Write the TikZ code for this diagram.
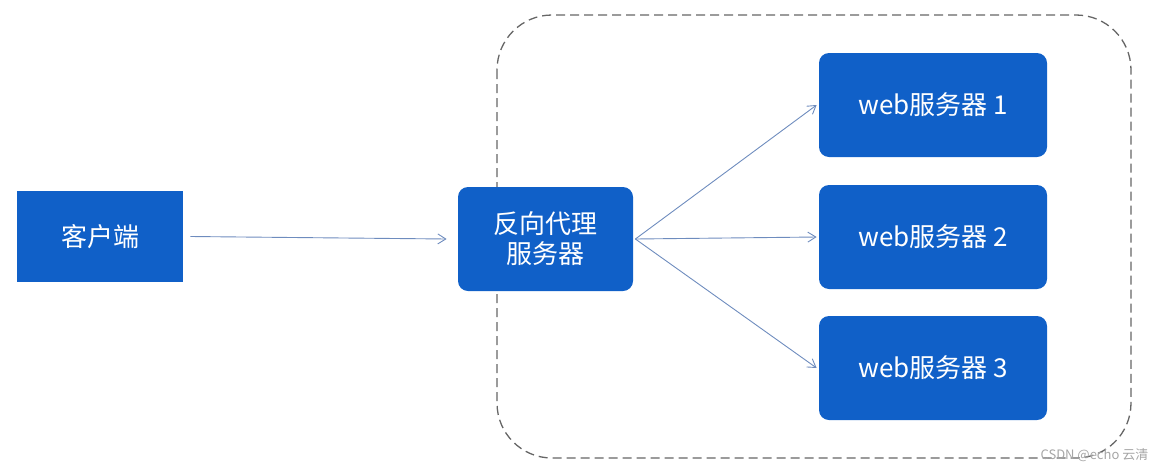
\documentclass[tikz,border=0pt]{standalone}
\usepackage{fontspec}
\setmainfont{Noto Sans CJK SC}
\usetikzlibrary{arrows.meta}
\definecolor{boxblue}{RGB}{16,96,200}
\definecolor{linkblue}{RGB}{110,140,190}
\tikzset{every picture/.style={line width=0.75pt}}
\tikzset{
  srvbox/.style={fill=boxblue, rounded corners=10pt, text=white, font=\fontsize{26}{32}\selectfont, align=center, inner sep=0pt},
  link/.style={draw=linkblue, line width=0.9pt, -{Straight Barb[length=8pt,width=10pt]}}
}
\begin{document}
\begin{tikzpicture}[x=1pt,y=-1pt]
    \useasboundingbox (0,0) rectangle (1165,472);

    %Shape: dashed group
    \draw [gray!80!black, dashed, dash pattern=on 9pt off 5pt, line width=1.3pt, rounded corners=55pt] (497,15) rectangle (1131,458);

    %Boxes
    \node [srvbox, rounded corners=0pt, minimum width=166pt, minimum height=91pt] (client) at (100,236.5) {客户端};
    \node [srvbox, minimum width=175pt, minimum height=104pt] (proxy) at (545.5,239) {反向代理\\[-2pt]服务器};
    \node [srvbox, minimum width=228pt, minimum height=104pt] (web1) at (933,105) {web服务器 1};
    \node [srvbox, minimum width=228pt, minimum height=104pt] (web2) at (933,237) {web服务器 2};
    \node [srvbox, minimum width=228pt, minimum height=104pt] (web3) at (933,368) {web服务器 3};

    %Arrows
    \draw [link] ([xshift=7pt]client.east) -- ([xshift=-11pt]proxy.west);
    \coordinate (fan) at ([xshift=2pt]proxy.east);
    \draw [link] (fan) -- ([xshift=-2pt]web1.west);
    \draw [link] (fan) -- ([xshift=-2pt]web2.west);
    \draw [link] (fan) -- ([xshift=-2pt]web3.west);

    % Text Node
    \node [text=gray!70, font=\fontsize{13}{15}\selectfont, anchor=east] (mark) at (1152,455) {CSDN @echo 云清};
\end{tikzpicture}
\end{document}
